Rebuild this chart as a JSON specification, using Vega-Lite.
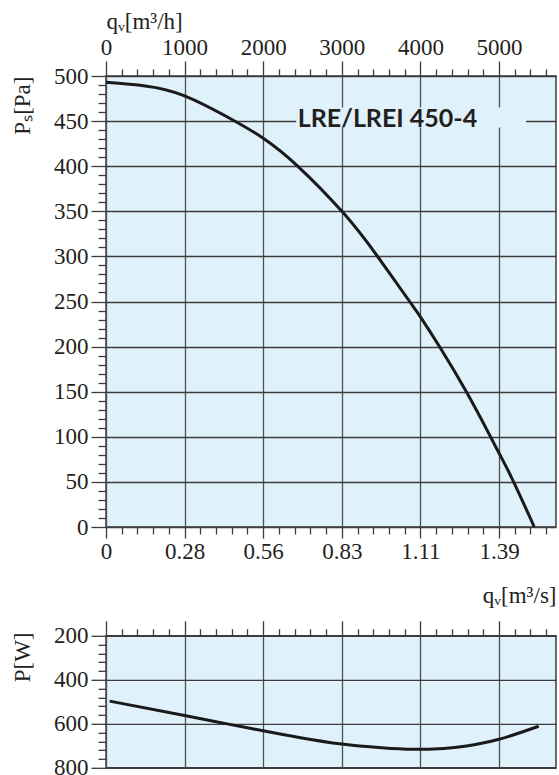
{
  "$schema": "https://vega.github.io/schema/vega-lite/v6.json",
  "background": "white",
  "padding": {"left": 10, "top": 9, "right": 2, "bottom": 0},
  "bounds": "flush",
  "spacing": 108.8,
  "datasets": {
    "pressure": [
      {"qv": 0, "ps": 493},
      {"qv": 500, "ps": 489},
      {"qv": 1000, "ps": 478},
      {"qv": 1619, "ps": 451},
      {"qv": 2000, "ps": 431},
      {"qv": 2428, "ps": 401},
      {"qv": 3021, "ps": 348},
      {"qv": 3446, "ps": 301},
      {"qv": 3863, "ps": 250},
      {"qv": 4000, "ps": 233},
      {"qv": 4250, "ps": 199},
      {"qv": 4590, "ps": 149},
      {"qv": 4886, "ps": 101},
      {"qv": 5000, "ps": 82},
      {"qv": 5175, "ps": 52},
      {"qv": 5449, "ps": 0}
    ],
    "power": [
      {"qv": 46, "p": 497},
      {"qv": 1000, "p": 562},
      {"qv": 1508, "p": 598},
      {"qv": 2000, "p": 632},
      {"qv": 2456, "p": 662},
      {"qv": 3000, "p": 692},
      {"qv": 3507, "p": 709},
      {"qv": 3900, "p": 716},
      {"qv": 4300, "p": 712},
      {"qv": 4566, "p": 702},
      {"qv": 5000, "p": 670},
      {"qv": 5505, "p": 611}
    ],
    "model": [{"name": "LRE/LREI 450-4"}]
  },
  "config": {
    "view": {"fill": "#dff1fa", "stroke": "#3c3c3c", "strokeWidth": 1.5},
    "axis": {
      "labelFont": "Liberation Serif",
      "labelFontSize": 23,
      "labelColor": "#231f20",
      "titleFont": "Liberation Serif",
      "titleFontSize": 23,
      "titleFontWeight": "normal",
      "titleColor": "#231f20",
      "domain": false,
      "tickColor": "#3c3c3c",
      "tickWidth": 1.3,
      "gridColor": "#3c3c3c",
      "gridWidth": 1.3,
      "labelFlush": false,
      "labelOverlap": false,
      "labelBound": false
    },
    "axisX": {"gridColor": "#505050"}
  },
  "vconcat": [
    {
      "width": 450,
      "height": 451,
      "resolve": {"axis": {"x": "independent", "y": "independent"}},
      "layer": [
        {
          "data": {"name": "pressure"},
          "mark": {"type": "line", "interpolate": "natural", "stroke": "#1a1a1a", "strokeWidth": 3},
          "encoding": {
            "x": {
              "field": "qv",
              "type": "quantitative",
              "scale": {"domain": [0, 5725], "nice": false, "zero": false},
              "axis": {
                "orient": "top",
                "values": [0, 200, 400, 600, 800, 1000, 1200, 1400, 1600, 1800, 2000, 2200, 2400, 2600, 2800, 3000, 3200, 3400, 3600, 3800, 4000, 4200, 4400, 4600, 4800, 5000, 5200, 5400, 5600],
                "format": "d",
                "labelExpr": "datum.value % 1000 === 0 ? datum.label : ''",
                "tickSize": {"condition": {"test": "datum.value % 1000 === 0", "value": 15}, "value": 7},
                "grid": true,
                "gridOpacity": {"condition": {"test": "datum.value % 1000 === 0", "value": 1}, "value": 0},
                "labelPadding": 2,
                "title": "qᵥ[m³/h]",
                "titleAnchor": "start",
                "titlePadding": 3
              }
            },
            "y": {
              "field": "ps",
              "type": "quantitative",
              "scale": {"domain": [0, 500], "nice": false},
              "axis": {
                "orient": "left",
                "values": [0, 10, 20, 30, 40, 50, 60, 70, 80, 90, 100, 110, 120, 130, 140, 150, 160, 170, 180, 190, 200, 210, 220, 230, 240, 250, 260, 270, 280, 290, 300, 310, 320, 330, 340, 350, 360, 370, 380, 390, 400, 410, 420, 430, 440, 450, 460, 470, 480, 490, 500],
                "format": "d",
                "labelExpr": "datum.value % 50 === 0 ? datum.label : ''",
                "tickSize": {"condition": {"test": "datum.value % 50 === 0", "value": 15}, "value": 8},
                "grid": true,
                "gridOpacity": {"condition": {"test": "datum.value % 50 === 0", "value": 1}, "value": 0},
                "labelPadding": 3,
                "title": "Pₛ[Pa]",
                "titleAnchor": "end",
                "titlePadding": 19
              }
            }
          }
        },
        {
          "data": {"name": "model"},
          "mark": {"type": "rect", "fill": "#dff1fa"},
          "encoding": {
            "x": {
              "datum": 2420,
              "type": "quantitative",
              "axis": {
                "orient": "bottom",
                "values": [0, 200, 400, 600, 800, 1000, 1200, 1400, 1600, 1800, 2000, 2200, 2400, 2600, 2800, 3000, 3200, 3400, 3600, 3800, 4000, 4200, 4400, 4600, 4800, 5000, 5200, 5400, 5600],
                "labelExpr": "datum.value === 0 ? '0' : (datum.value % 1000 === 0 ? format(datum.value / 3600, '.2f') : '')",
                "tickSize": {"condition": {"test": "datum.value % 1000 === 0", "value": 11}, "value": 7},
                "grid": false,
                "labelPadding": 2,
                "title": "qᵥ[m³/s]",
                "titleAnchor": "end",
                "titlePadding": 21
              }
            },
            "x2": {"datum": 5345},
            "y": {"datum": 443, "type": "quantitative", "axis": null},
            "y2": {"datum": 465}
          }
        },
        {
          "data": {"name": "model"},
          "mark": {"type": "text", "font": "Lato", "fontWeight": "bold", "fontSize": 25, "align": "left", "baseline": "middle", "fill": "#231f20"},
          "encoding": {
            "x": {"datum": 2440, "type": "quantitative", "axis": null},
            "y": {"datum": 452, "type": "quantitative", "axis": null},
            "text": {"field": "name"}
          }
        }
      ]
    },
    {
      "width": 450,
      "height": 132,
      "data": {"name": "power"},
      "mark": {"type": "line", "interpolate": "natural", "stroke": "#1a1a1a", "strokeWidth": 3},
      "encoding": {
        "x": {
          "field": "qv",
          "type": "quantitative",
          "scale": {"domain": [0, 5725], "nice": false, "zero": false},
          "axis": {
            "orient": "top",
            "values": [0, 200, 400, 600, 800, 1000, 1200, 1400, 1600, 1800, 2000, 2200, 2400, 2600, 2800, 3000, 3200, 3400, 3600, 3800, 4000, 4200, 4400, 4600, 4800, 5000, 5200, 5400, 5600],
            "labels": false,
            "tickSize": {"condition": {"test": "datum.value % 1000 === 0", "value": 15}, "value": 7},
            "grid": true,
            "gridOpacity": {"condition": {"test": "datum.value % 1000 === 0", "value": 1}, "value": 0},
            "title": null
          }
        },
        "y": {
          "field": "p",
          "type": "quantitative",
          "scale": {"domain": [200, 800], "reverse": true, "nice": false, "zero": false},
          "axis": {
            "orient": "left",
            "values": [200, 240, 280, 320, 360, 400, 440, 480, 520, 560, 600, 640, 680, 720, 760, 800],
            "format": "d",
            "labelExpr": "datum.value % 200 === 0 ? datum.label : ''",
            "tickSize": {"condition": {"test": "datum.value % 200 === 0", "value": 15}, "value": 8},
            "grid": true,
            "gridOpacity": {"condition": {"test": "datum.value % 200 === 0", "value": 1}, "value": 0},
            "labelPadding": 3,
            "title": "P[W]",
            "titleAnchor": "start",
            "titleAlign": "left",
            "titleY": 46,
            "titlePadding": 19
          }
        }
      }
    }
  ]
}
